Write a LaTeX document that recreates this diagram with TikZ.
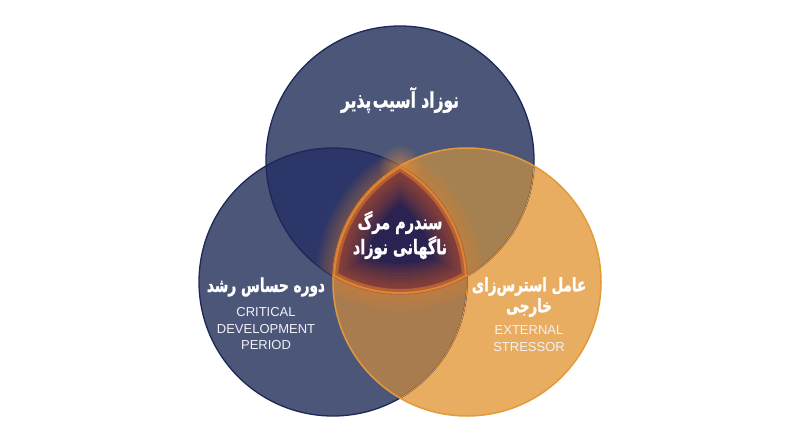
\documentclass[tikz,border=0pt]{standalone}
\usepackage{fontspec}
\setmainfont{Liberation Sans}
\newfontfamily\fafont[Script=Arabic, FakeStretch=0.72, FakeBold=1.2]{DejaVu Sans}
\TeXXeTstate=1
\usetikzlibrary{fadings}
\definecolor{navyfill}{HTML}{4B5679}
\definecolor{navydeep}{HTML}{2D3669}
\definecolor{navyline}{HTML}{1E2858}
\definecolor{orangefill}{HTML}{E8AD60}
\definecolor{orangeline}{HTML}{E39A3B}
\definecolor{brownfill}{HTML}{A58050}
\definecolor{corefill}{HTML}{2A2250}
\definecolor{glowhot}{HTML}{F39232}
\definecolor{glowdeep}{HTML}{D45A2A}
\tikzfading[name=vertexfade, inner color=transparent!45, outer color=transparent!100]

\begin{document}
\begin{tikzpicture}[x=1pt,y=-1pt]
\tikzstyle{falabel} = [text=white, font=\fafont\bfseries\fontsize{19}{25}\selectfont, align=center, inner sep=0pt]
\tikzstyle{enlabel} = [text=white!92!navyfill, font=\fontsize{13}{16.5}\selectfont, align=center, inner sep=0pt]
\def\rad{134}
\useasboundingbox (0,0) rectangle (800,447);
\fill[white] (0,0) rectangle (800,447);
\coordinate (top) at (400,160);
\coordinate (lft) at (333,282);
\coordinate (rgt) at (467,282);
\coordinate (apex) at (400,166);
% plain circles
\fill[navyfill] (top) circle[radius=\rad] (lft) circle[radius=\rad];
\fill[orangefill] (rgt) circle[radius=\rad];
% overlaps
\begin{scope}
  \clip (top) circle[radius=\rad];
  \fill[navydeep] (lft) circle[radius=\rad];
  \fill[brownfill] (rgt) circle[radius=\rad];
\end{scope}
\begin{scope}
  \clip (lft) circle[radius=\rad];
  \fill[brownfill!97!red] (rgt) circle[radius=\rad];
\end{scope}
% outlines
\draw[navyline, line width=1.3pt] (top) circle[radius=\rad] (lft) circle[radius=\rad];
\begin{scope}
  \clip (rgt) circle[radius=\rad];
  \draw[orangeline!80!brown, line width=1pt] (top) circle[radius=\rad] (lft) circle[radius=\rad];
\end{scope}
\draw[orangeline, line width=1.5pt] (rgt) circle[radius=\rad];
% outer halo
\foreach \a/\b/\c in {top/lft/rgt, lft/rgt/top, rgt/top/lft}{
  \begin{scope}
    \clip (\b) circle[radius=\rad];
    \clip (\c) circle[radius=\rad];
    \foreach \w in {4,8,...,36}
      \draw[glowhot, line width=\w pt, opacity=0.045] (\a) circle[radius=\rad];
  \end{scope}
}
\fill[glowhot, path fading=vertexfade] (apex) circle[radius=22];
% core with inner glow
\begin{scope}
  \clip (top) circle[radius=\rad];
  \clip (lft) circle[radius=\rad];
  \clip (rgt) circle[radius=\rad];
  \fill[corefill] (rgt) circle[radius=\rad];
  \foreach \w in {6,12,...,60}
    \draw[glowdeep, line width=\w pt, opacity=0.09] (top) circle[radius=\rad] (lft) circle[radius=\rad] (rgt) circle[radius=\rad];
  \draw[glowhot, line width=10pt, opacity=0.4] (top) circle[radius=\rad] (lft) circle[radius=\rad] (rgt) circle[radius=\rad];
  \draw[glowhot, line width=4pt, opacity=0.7] (top) circle[radius=\rad] (lft) circle[radius=\rad] (rgt) circle[radius=\rad];
\end{scope}
% labels
\node[falabel, font=\fafont\bfseries\fontsize{21.5}{25}\selectfont] (vulnerable) at (400,100) {\beginR نوزاد آسیب‌\kern1.5pt پذیر\endR};
\node[falabel, font=\fafont\bfseries\fontsize{20}{25}\selectfont] (sids) at (400,235) {\beginR سندرم مرگ\endR\\\beginR ناگهانی نوزاد\endR};
\node[falabel] (criticalfa) at (266,287) {\beginR دوره حساس رشد\endR};
\node[enlabel] (criticalen) at (266,329) {CRITICAL\\DEVELOPMENT\\PERIOD};
\node[falabel, font=\fafont\bfseries\fontsize{18.7}{21}\selectfont] (stressorfa) at (529,297) {\beginR عامل استرس‌زای\endR\\\beginR خارجی\endR};
\node[enlabel] (stressoren) at (529,338.5) {EXTERNAL\\STRESSOR};
\end{tikzpicture}
\end{document}
